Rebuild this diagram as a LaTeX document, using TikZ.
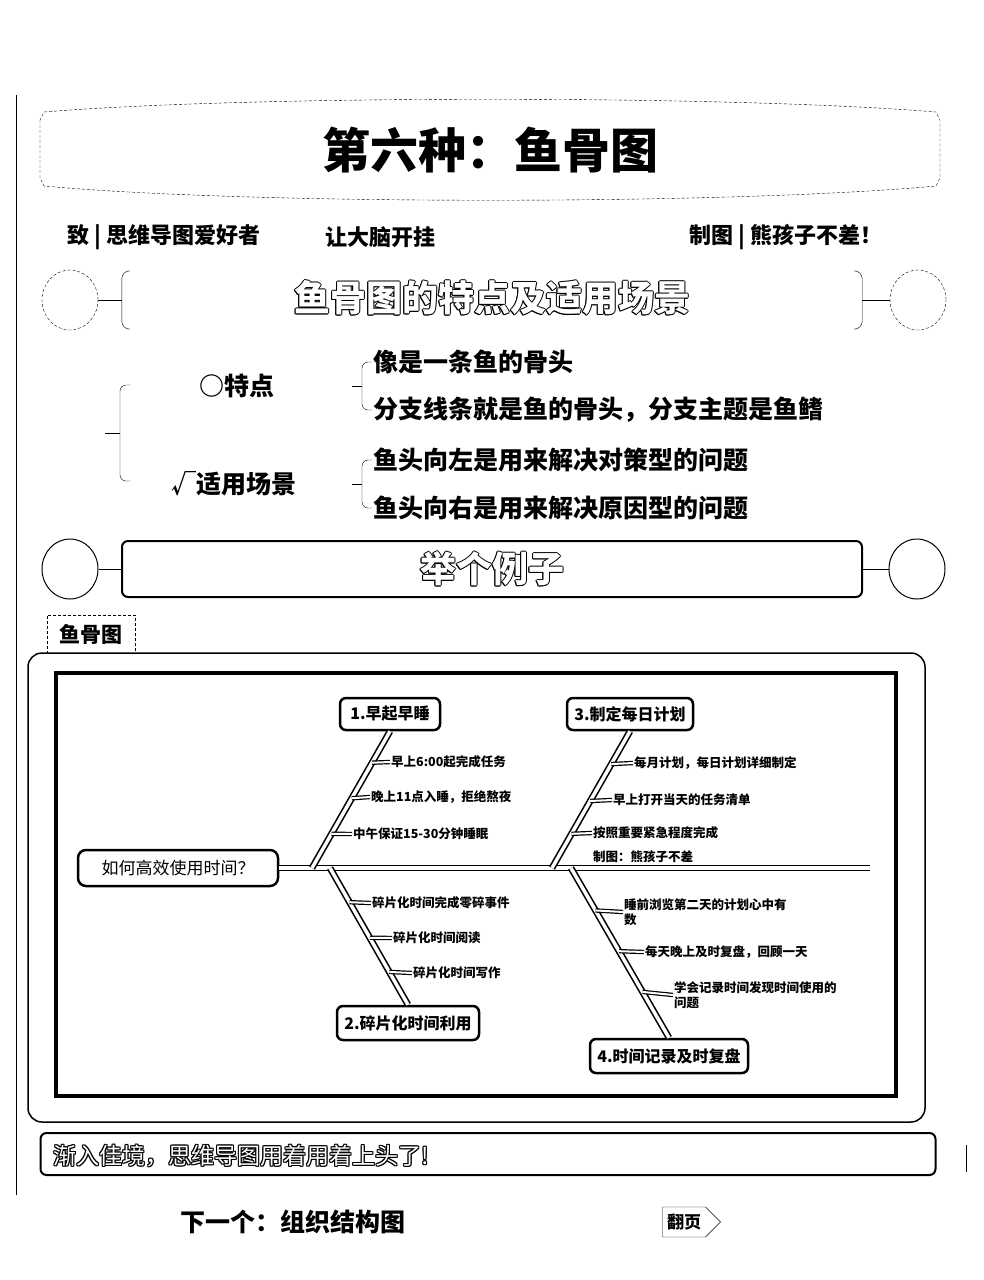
\documentclass[tikz,border=0pt]{standalone}
\usepackage{fontspec}
\setmainfont{Noto Sans CJK SC}
\usetikzlibrary{shapes,arrows,positioning,fit,calc}

\newcommand{\hollow}[4]{%
  \foreach \hx/\hy in {-1/0,1/0,0/-1,0/1,-.7/-.7,.7/.7,-.7/.7,.7/-.7}
    {\node[#3, text=black] at ($(#1)+(\hx,\hy)$) {#4};}
  \node[#3, text=white] (#2) at (#1) {#4};}

\begin{document}
\begin{tikzpicture}[x=1pt, y=-1pt,
    fs/.style={font=\fontsize{#1}{#1}\selectfont},
    fsb/.style={font=\fontsize{#1}{#1}\selectfont\bfseries},
    banner/.style={rectangle, rounded corners=6pt, minimum width=740pt},
    ring/.style={ellipse, draw, minimum width=56pt, minimum height=60pt},
    brace/.style={rounded corners=6pt},
    point/.style={anchor=west, inner sep=1pt, fsb=25},
    headbox/.style={rectangle, draw, line width=2.5pt, rounded corners=8pt, minimum width=200pt, minimum height=36pt, fs=17},
    topic/.style={rectangle, draw, line width=2.5pt, rounded corners=6pt, minimum height=32pt, fsb=16},
    leaf/.style={anchor=west, inner sep=1pt, align=left, font=\fontsize{12.5}{15}\selectfont\bfseries},
    bone/.style={double, line width=1.6pt, double distance=3.5pt},
    twig/.style={double, line width=1.2pt, double distance=2pt}]
    \useasboundingbox (0,0) rectangle (984,1280);
    \draw[thin] (16,95) -- (16,1195);
    \draw[thin] (966,1145) -- (966,1172);

    % title
    \draw[densely dashed, thin] (40,120) -- (40,178) -- (44,186) .. controls (250,205) and (730,205) .. (936,186) -- (940,178) -- (940,120) -- (936,112) .. controls (730,95) and (250,95) .. (44,112) -- cycle;
    \node[fsb=48] (title) at (490,150) {第六种：鱼骨图};
    \node[fsb=22, anchor=west] (dedic) at (64,237) {致 | 思维导图爱好者};
    \node[fsb=22, anchor=west] (slogan) at (322,237) {让大脑开挂};
    \node[fsb=22, anchor=east] (maker) at (886,237) {制图 | 熊孩子不差！};

    % first banner
    \node[banner, minimum height=58pt] (scene) at (492,300) {};
    \draw[rounded corners=8pt] ([xshift=8pt]scene.north west) -- (scene.north west) -- (scene.south west) -- ([xshift=8pt]scene.south west);
    \draw[rounded corners=8pt] ([xshift=-8pt]scene.north east) -- (scene.north east) -- (scene.south east) -- ([xshift=-8pt]scene.south east);
    \node[ring, densely dashed, thin] (ringA) at (70,300) {};
    \node[ring, densely dashed, thin] (ringB) at (918,300) {};
    \draw (ringA) -- (scene);
    \draw (ringB) -- (scene);
    \hollow{492,298}{scenetext}{fsb=36}{鱼骨图的特点及适用场景}

    % traits and uses
    \node[point] (trait) at (198,386) {○特点};
    \node[point] (usage) at (170,484) {√适用场景};
    \node[point] (t1) at (372,362) {像是一条鱼的骨头};
    \node[point] (t2) at (372,410) {分支线条就是鱼的骨头，分支主题是鱼鳍};
    \node[point] (u1) at (372,460) {鱼头向左是用来解决对策型的问题};
    \node[point] (u2) at (372,508) {鱼头向右是用来解决原因型的问题};
    \coordinate (big) at (120,433);
    \coordinate (bt) at (362,386);
    \coordinate (bu) at (362,484);
    \draw[brace] (130,385) -| (big) |- (130,481);
    \draw (big) -- ++(-15,0);
    \draw[brace] (t1.west) -| (bt) |- (t2.west);
    \draw (bt) -- ++(-10,0);
    \draw[brace] (u1.west) -| (bu) |- (u2.west);
    \draw (bu) -- ++(-10,0);

    % second banner
    \node[banner, draw, line width=2pt, minimum height=56pt] (sample) at (492,569) {};
    \node[ring, line width=1pt] (ringC) at (70,569) {};
    \node[ring, line width=1pt] (ringD) at (917,569) {};
    \draw[line width=1pt] (ringC) -- (sample);
    \draw[line width=1pt] (ringD) -- (sample);
    \hollow{492,569}{sampletext}{fsb=36}{举个例子}

    % fishbone frame
    \draw[line width=1.5pt, rounded corners=14pt] (28,653) rectangle (925,1122);
    \draw[line width=3.5pt] (56,673) rectangle (896,1096);
    \node[draw, densely dashed, thin, minimum width=88pt, minimum height=38pt, fsb=21] (tab) at (91,634) {鱼骨图};

    % head and spine
    \node[headbox] (head) at (178,868) {如何高效使用时间？};
    \coordinate (tail) at (870,868);
    \draw[bone] (head.east) -- (tail);
    \coordinate (j1) at (312,868);
    \coordinate (j2) at (330,868);
    \coordinate (j3) at (552,868);
    \coordinate (j4) at (571,868);

    \node[topic, minimum width=100pt] (n1) at (390,714) {1.早起早睡};
    \node[topic, minimum width=126pt] (n3) at (630,714) {3.制定每日计划};
    \node[topic, minimum width=142pt, minimum height=34pt] (n2) at (408,1023) {2.碎片化时间利用};
    \node[topic, minimum width=158pt, minimum height=34pt] (n4) at (669,1056) {4.时间记录及时复盘};
    \draw[bone] (j1) -- (n1.south);
    \draw[bone] (j3) -- (n3.south);
    \draw[bone] (j2) -- (n2.north);
    \draw[bone] (j4) -- (n4.north);

    % leaves
    \node[leaf] (l11) at (390,762) {早上6:00起完成任务};
    \node[leaf] (l12) at (370,797) {晚上11点入睡，拒绝熬夜};
    \node[leaf] (l13) at (352,834) {中午保证15-30分钟睡眠};
    \node[leaf] (l31) at (633,763) {每月计划，每日计划详细制定};
    \node[leaf] (l32) at (612,800) {早上打开当天的任务清单};
    \node[leaf] (l33) at (592,833) {按照重要紧急程度完成};
    \node[leaf] (sign) at (592,857) {制图：熊孩子不差};
    \node[leaf] (l21) at (371,903) {碎片化时间完成零碎事件};
    \node[leaf] (l22) at (392,938) {碎片化时间阅读};
    \node[leaf] (l23) at (412,973) {碎片化时间写作};
    \node[leaf] (l41) at (623,912) {睡前浏览第二天的计划心中有\\数};
    \node[leaf] (l42) at (644,952) {每天晚上及时复盘，回顾一天};
    \node[leaf] (l43) at (673,995) {学会记录时间发现时间使用的\\问题};
    \draw[twig] ($(j1)!0.77!(n1.south)$) -- (l11.west);
    \draw[twig] ($(j1)!0.51!(n1.south)$) -- (l12.west);
    \draw[twig] ($(j1)!0.25!(n1.south)$) -- (l13.west);
    \draw[twig] ($(j3)!0.76!(n3.south)$) -- (l31.west);
    \draw[twig] ($(j3)!0.49!(n3.south)$) -- (l32.west);
    \draw[twig] ($(j3)!0.25!(n3.south)$) -- (l33.west);
    \draw[twig] ($(j2)!0.25!(n2.north)$) -- (l21.west);
    \draw[twig] ($(j2)!0.51!(n2.north)$) -- (l22.west);
    \draw[twig] ($(j2)!0.76!(n2.north)$) -- (l23.west);
    \draw[twig] ($(j4)!0.25!(n4.north)$) -- (l41.west);
    \draw[twig] ($(j4)!0.49!(n4.north)$) -- (l42.west);
    \draw[twig] ($(j4)!0.73!(n4.north)$) -- (l43.west);

    % footer
    \node[banner, draw, line width=2pt, minimum width=895pt, minimum height=42pt] (cheer) at (488,1154) {};
    \hollow{50,1156}{cheertext}{fs=23, anchor=west}{渐入佳境，思维导图用着用着上头了!}
    \node[fsb=25, anchor=west] (next) at (177,1222) {下一个：组织结构图};
    \node[draw, thin, signal, signal to=east, fsb=17, minimum width=58pt, minimum height=30pt] (flip) at (684,1222) {翻页};
\end{tikzpicture}
\end{document}
